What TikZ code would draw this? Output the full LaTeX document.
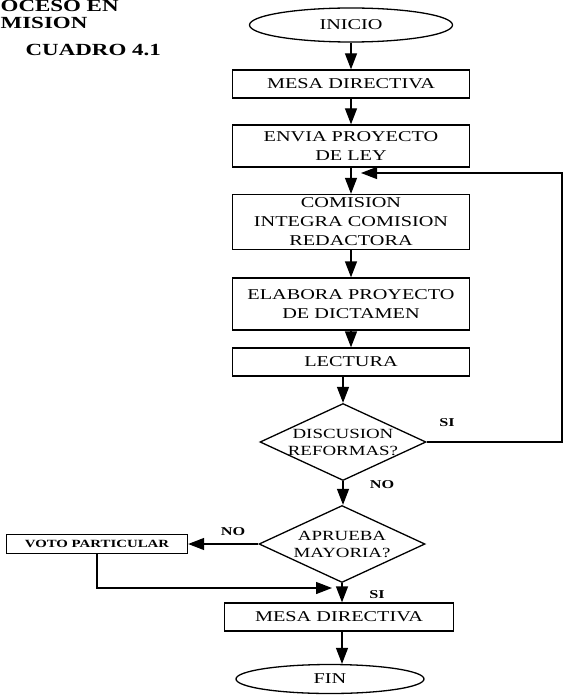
\documentclass[tikz,border=0pt]{standalone}
\usepackage{fontspec}
\setmainfont{Liberation Serif}[FakeStretch=1.35]
\usepackage{tikz}
\usetikzlibrary{shapes.geometric,arrows.meta}

\tikzset{
  proc/.style={draw, minimum width=237pt, minimum height=28pt, inner sep=2pt, align=center, font=\fontsize{15}{19}\selectfont},
  term/.style={draw, ellipse, inner sep=0pt, font=\fontsize{15}{19}\selectfont},
  decision/.style={draw, diamond, inner sep=0pt, minimum width=166pt, minimum height=77pt},
  dtext/.style={align=center, inner sep=0pt, font=\fontsize{14}{17}\selectfont},
  lbl/.style={inner sep=0pt, font=\bfseries\fontsize{12}{14}\selectfont},
  ttl/.style={anchor=base west, inner sep=0pt, font=\bfseries\fontsize{17}{20}\selectfont},
}

\begin{document}
\begin{tikzpicture}[x=1pt, y=-1pt, line width=1.3pt, >={Triangle[length=16pt,width=12pt]}]
\useasboundingbox (0,0) rectangle (564,695);
% titulo
\node[ttl] (t1) at (0,12) {OCESO EN};
\node[ttl] (t2) at (0,29) {MISION};
\node[ttl] (t3) at (25,56) {CUADRO 4.1};
% pasos
\node[term, minimum width=203pt, minimum height=34pt] (ini) at (351,25) {INICIO};
\node[proc] (mesa) at (351,84) {MESA DIRECTIVA};
\node[proc, minimum height=42pt] (envia) at (351,146) {ENVIA PROYECTO\\DE LEY};
\node[proc, minimum height=55pt] (comi) at (351,222) {COMISION\\INTEGRA COMISION\\REDACTORA};
\node[proc, minimum height=52pt] (elab) at (351,304) {ELABORA PROYECTO\\DE DICTAMEN};
\node[proc] (lect) at (351,362) {LECTURA};
\node[decision] (disc) at (343,442) {};
\node[dtext] (disct) at (disc) {DISCUSION\\REFORMAS?};
\node[decision] (apr) at (342,544) {};
\node[dtext] (aprt) at (apr) {APRUEBA\\MAYORIA?};
\node[proc, minimum width=181pt, minimum height=19pt, font=\bfseries\fontsize{11}{12}\selectfont] (voto) at (97,544) {VOTO PARTICULAR};
\node[proc, minimum width=229pt] (mesa2) at (339,617) {MESA DIRECTIVA};
\node[term, minimum width=188pt, minimum height=29pt] (fin) at (330,679) {FIN};
% etiquetas
\node[lbl] (si1) at (447,423) {SI};
\node[lbl] (no1) at (382,485) {NO};
\node[lbl] (no2) at (233,532) {NO};
\node[lbl] (si2) at (377,595) {SI};
\coordinate (corner) at (562,173);
\coordinate (loop) at (361,173);
\coordinate (merge) at (332,588);
% flechas
\draw [->] (ini) -- (mesa);
\draw [->] (mesa) -- (envia);
\draw [->] (envia) -- (comi);
\draw [->] (comi) -- (elab);
\draw [->] (elab) -- (lect);
\draw [->] (lect.south -| disc.north) -- (disc.north);
\draw [->] (disc.east) -| (corner) -- (loop);
\draw [->] (disc.south) -- (disc.south |- apr.north);
\draw [->] (apr.west) -- (voto.east);
\draw [->] (voto.south) |- (merge);
\draw [->] (apr.south) -- (apr.south |- mesa2.north);
\draw [->] (apr.south |- mesa2.south) -- (apr.south |- fin.north);
\end{tikzpicture}
\end{document}
